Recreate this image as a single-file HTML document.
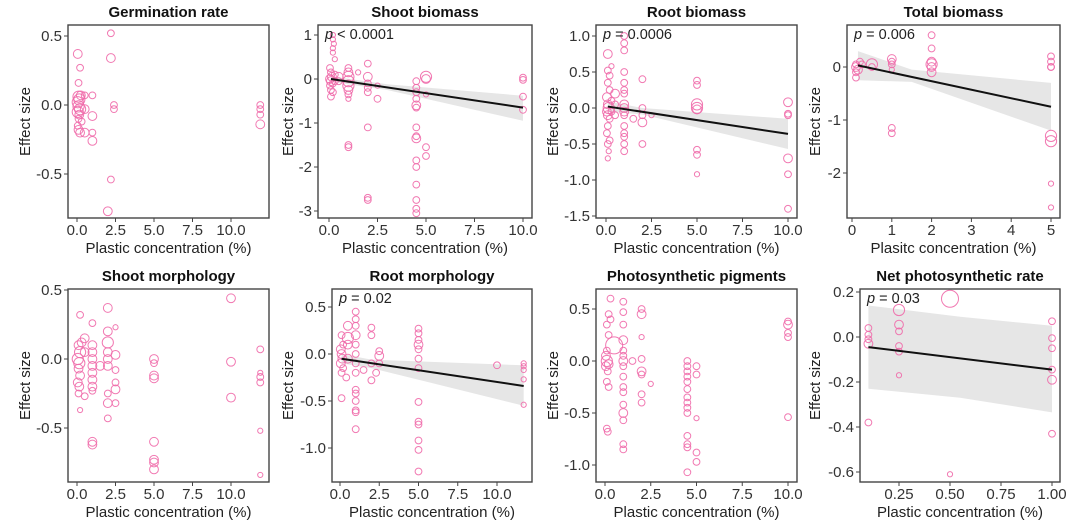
<!DOCTYPE html>
<html><head><meta charset="utf-8">
<style>
html,body{margin:0;padding:0;background:#fff;}
svg{display:block;font-family:"Liberation Sans",Arial,sans-serif;}
</style></head>
<body>
<svg id="chart" width="1080" height="527" viewBox="0 0 1080 527"></svg>
<script>
// ---------- data ----------
const panelTitles = ["Germination rate","Shoot biomass","Root biomass","Total biomass","Shoot morphology","Root morphology","Photosynthetic pigments","Net photosynthetic rate"];
const xAxisTitles = ["Plastic concentration (%)","Plastic concentration (%)","Plastic concentration (%)","Plasitc concentration (%)","Plastic concentration (%)","Plastic concentration (%)","Plastic concentration (%)","Plastic concentration (%)"];
const pLabels = ["", "< 0.0001", "= 0.0006", "= 0.006", "", "= 0.02", "", "= 0.03"];
const xTickLabels = [
 ["0.0","2.5","5.0","7.5","10.0"],["0.0","2.5","5.0","7.5","10.0"],["0.0","2.5","5.0","7.5","10.0"],["0","1","2","3","4","5"],
 ["0.0","2.5","5.0","7.5","10.0"],["0.0","2.5","5.0","7.5","10.0"],["0.0","2.5","5.0","7.5","10.0"],["0.25","0.50","0.75","1.00"]];
const yTickLabels = [
 ["0.5","0.0","-0.5"],["1","0","-1","-2","-3"],["1.0","0.5","0.0","-0.5","-1.0","-1.5"],["0","-1","-2"],
 ["0.5","0.0","-0.5"],["0.5","0.0","-0.5","-1.0"],["0.5","0.0","-0.5","-1.0"],["0.2","0.0","-0.2","-0.4","-0.6"]];
// points: [x, effect size, radius-class 1..5]
const germPts = [[0.05,0.37,3],[0.1,0.16,2],[0.2,0.27,2],[0.1,0.06,4],[0.15,0.04,4],[0.25,0.07,3],[0.05,0.02,4],[0.1,-0.01,4],[0.2,-0.03,4],[0.05,-0.05,4],[0.15,-0.07,3],[0.1,-0.1,2],[0.05,-0.15,2],[0.1,-0.18,3],[0.2,-0.2,3],[0.3,-0.12,2],[0.5,0.07,2],[0.5,-0.03,3],[0.5,-0.2,3],[1,0.07,2],[1,-0.08,3],[1,-0.2,2],[1,-0.26,3],[2.2,0.52,2],[2.2,0.34,3],[2.2,-0.54,2],[2,-0.77,3],[2.4,0,2],[2.4,-0.03,2],[11.9,0,2],[11.9,-0.03,2],[11.9,-0.07,2],[11.9,-0.14,3]];
const shootBioPts = [[0.2,1.0,1],[0.2,0.9,1],[0.25,0.8,1],[0.2,0.7,1],[0.2,0.6,1],[0.3,0.45,1],[0.05,0.25,2],[0.1,0.15,2],[0.15,0.05,3],[0.05,0,3],[0.1,-0.05,3],[0.2,-0.1,2],[0.05,-0.15,2],[0.1,-0.25,2],[0.2,-0.3,2],[0.1,-0.4,2],[0.3,0.1,2],[0.3,-0.05,2],[0.5,0.05,3],[0.5,-0.05,2],[1,0.25,2],[1,0.15,3],[1,0.05,4],[1,-0.05,4],[1,-0.15,4],[1,-0.25,3],[1,-0.35,2],[1,-0.45,1],[1,-1.5,2],[1,-1.55,2],[1.5,0.15,1],[2,0.35,2],[2,0.05,3],[2,-0.1,2],[2,-0.2,2],[2,-0.3,2],[2,-1.1,2],[2,-2.7,2],[2,-2.75,2],[2.5,-0.15,1],[2.5,-0.45,2],[4.5,-0.05,2],[4.5,-0.2,2],[4.5,-0.3,2],[4.5,-0.45,2],[4.5,-0.6,3],[4.5,-0.65,2],[4.5,-1.1,2],[4.5,-1.3,2],[4.5,-1.35,3],[4.5,-1.85,2],[4.5,-2.0,2],[4.5,-2.4,2],[4.5,-2.75,2],[4.5,-2.95,2],[4.5,-3.05,2],[5,0.05,4],[5,0,3],[5,-0.35,1],[5,-1.55,2],[5,-1.75,2],[10,0.03,2],[10,-0.02,2],[10,-0.4,2],[10,-0.7,2]];
const rootBioPts = [[0.1,0.75,3],[0.1,0.52,2],[0.2,0.45,2],[0.3,0.58,1],[0.1,0.35,2],[0.2,0.25,2],[0.05,0.15,3],[0.1,0.05,3],[0.15,0,4],[0.05,-0.05,3],[0.1,-0.1,3],[0.2,-0.15,2],[0.1,-0.25,2],[0.05,-0.35,2],[0.2,-0.45,2],[0.1,-0.5,2],[0.15,-0.6,1],[0.1,-0.7,1],[0.3,0.1,2],[0.3,-0.05,2],[0.5,0.2,3],[0.5,0.05,2],[0.5,-0.1,2],[1,1.0,2],[1,0.9,2],[1,0.8,2],[1,0.5,2],[1,0.35,2],[1,0.25,2],[1,0.2,2],[1,0.05,3],[1,0,3],[1,-0.05,3],[1,-0.1,2],[1,-0.25,2],[1,-0.35,2],[1,-0.4,2],[1,-0.5,2],[1,-0.6,2],[1.5,-0.15,2],[2,0.4,2],[2,0,2],[2,-0.1,2],[2,-0.2,3],[2,-0.5,2],[2.5,-0.1,1],[5,0.38,2],[5,0.32,2],[5,0.05,4],[5,0,4],[5,-0.02,3],[5,-0.58,2],[5,-0.65,2],[5,-0.92,1],[10,0.08,3],[10,-0.08,2],[10,-0.1,2],[10,-0.7,3],[10,-0.92,2],[10,-1.4,2]];
const totalBioPts = [[0.1,0.05,2],[0.1,0,3],[0.15,-0.05,3],[0.1,-0.1,2],[0.1,-0.2,2],[0.2,0.1,2],[0.25,0.05,2],[0.5,0.05,4],[0.5,0,2],[1,0.15,3],[1,0.1,2],[1,0.05,2],[1,-0.05,1],[1,-1.15,2],[1,-1.25,2],[2,0.6,2],[2,0.35,2],[2,0.1,3],[2,0.05,4],[2,0,3],[2,-0.1,3],[5,0.2,2],[5,0.1,2],[5,0,2],[5,0,2],[5,-1.3,4],[5,-1.4,4],[5,-2.2,1],[5,-2.65,1]];
const shootMorphPts = [[0.2,0.32,2],[0.1,0.1,3],[0.2,0.05,4],[0.05,0,4],[0.15,-0.03,4],[0.1,-0.07,3],[0.2,-0.12,3],[0.05,-0.17,3],[0.15,-0.2,3],[0.1,-0.25,2],[0.2,-0.37,1],[0.3,0.12,3],[0.5,0.15,3],[0.5,0.05,3],[0.5,-0.27,2],[1,0.26,2],[1,0.1,3],[1,0.05,3],[1,0,3],[1,-0.05,3],[1,-0.1,3],[1,-0.15,3],[1,-0.2,3],[1,-0.23,2],[1,-0.6,3],[1,-0.62,3],[1.5,-0.05,3],[2,0.37,3],[2,0.2,3],[2,0.12,4],[2,0.05,3],[2,0,3],[2,-0.05,3],[2,-0.25,2],[2,-0.32,3],[2,-0.43,2],[2.5,0.23,1],[2.5,0.03,3],[2.5,-0.08,2],[2.5,-0.17,2],[2.5,-0.22,3],[2.5,-0.32,2],[5,0,3],[5,-0.03,2],[5,-0.12,3],[5,-0.14,3],[5,-0.6,3],[5,-0.73,3],[5,-0.75,3],[5,-0.8,3],[10,0.44,3],[10,-0.02,3],[10,-0.28,3],[11.9,0.07,2],[11.9,-0.1,1],[11.9,-0.13,2],[11.9,-0.17,2],[11.9,-0.52,1],[11.9,-0.84,1]];
const rootMorphPts = [[0.1,0.2,2],[0.2,0.1,2],[0.05,0.05,3],[0.1,0,3],[0.15,-0.05,3],[0.05,-0.1,3],[0.2,-0.15,2],[0.1,-0.2,2],[0.1,-0.47,2],[0.5,0.3,3],[0.5,0.17,4],[0.5,0.1,3],[0.5,-0.05,3],[0.4,-0.25,2],[1,0.45,2],[1,0.37,2],[1,0.3,2],[1,0.2,3],[1,0.1,2],[1,0,2],[1,-0.1,2],[1,-0.2,2],[1,-0.38,2],[1,-0.42,2],[1,-0.5,2],[1,-0.6,2],[1,-0.62,2],[1,-0.8,2],[1.5,-0.17,2],[2,0.28,2],[2,0.2,2],[2,-0.1,2],[2,-0.28,2],[2.5,0.03,2],[2.5,-0.02,3],[2.5,-0.1,2],[2.3,-0.2,2],[5,0.27,2],[5,0.22,2],[5,0.15,2],[5,0.1,3],[5,0.05,2],[5,-0.05,2],[5,-0.15,2],[5,-0.51,2],[5,-0.72,2],[5,-0.75,2],[5,-0.92,2],[5,-1.02,2],[5,-1.25,2],[10,-0.12,2],[11.7,-0.1,1],[11.7,-0.13,1],[11.7,-0.17,1],[11.7,-0.27,1],[11.7,-0.54,1]];
const pigmentPts = [[0.3,0.6,2],[0.2,0.45,2],[0.3,0.4,2],[0.1,0.35,2],[0.2,0.25,2],[0.1,0.1,2],[0.05,0.05,3],[0.1,0,4],[0.2,-0.03,3],[0.05,-0.05,3],[0.15,-0.1,2],[0.1,-0.2,2],[0.2,-0.25,2],[0.1,-0.65,2],[0.15,-0.68,2],[0.5,0.15,5],[1,0.57,2],[1,0.47,2],[1,0.35,2],[1,0.2,3],[1,0.1,2],[1,0.05,2],[1,0,3],[1,-0.05,2],[1,-0.15,2],[1,-0.25,2],[1,-0.3,2],[1,-0.42,2],[1,-0.5,3],[1,-0.57,2],[1,-0.8,2],[1,-0.85,2],[1.5,0,2],[2,0.5,2],[2,0.45,3],[2,0.23,1],[2,0.02,2],[2,-0.1,3],[2,-0.13,2],[2,-0.32,2],[2,-0.4,2],[2.5,-0.22,1],[4.5,0,2],[4.5,-0.05,2],[4.5,-0.1,2],[4.5,-0.15,2],[4.5,-0.2,2],[4.5,-0.27,2],[4.5,-0.35,2],[4.5,-0.4,2],[4.5,-0.45,2],[4.5,-0.5,2],[4.5,-0.72,2],[4.5,-0.8,2],[4.5,-0.83,2],[4.5,-1.07,2],[5,-0.05,2],[5,-0.13,2],[5,-0.55,1],[5,-0.88,2],[5,-0.97,2],[10,0.38,2],[10,0.35,3],[10,0.27,2],[10,0.23,2],[10,-0.54,2]];
const netPhotoPts = [[0.1,0.04,2],[0.1,0.01,2],[0.1,-0.01,2],[0.1,-0.03,3],[0.1,-0.38,2],[0.25,0.12,4],[0.25,0.055,3],[0.25,0.025,2],[0.25,-0.04,2],[0.25,-0.065,2],[0.25,-0.17,1],[0.5,0.17,5],[0.5,-0.61,1],[1,0.07,2],[1,-0.005,2],[1,-0.05,2],[1,-0.145,2],[1,-0.19,3],[1,-0.43,2]];
// regression fits [x0, y0, x1, y1] and confidence band [x, lower, upper]
const fitLines = [null,[0.1,0.0,10,-0.65],[0.1,0.02,10,-0.36],[0.15,0.03,5,-0.75],null,[0.1,-0.05,11.7,-0.34],null,[0.1,-0.045,1,-0.145]];
const fitBands = [null,
 [[0.1,-0.06,0.06],[3,-0.25,-0.12],[10,-0.95,-0.38]],
 [[0.1,-0.05,0.09],[2,-0.09,0.0],[10,-0.57,-0.15]],
 [[0.15,-0.25,0.3],[1.5,-0.28,-0.05],[5,-1.2,-0.3]],
 null,
 [[0.1,-0.1,0.0],[2,-0.15,-0.06],[11.7,-0.55,-0.12]],
 null,
 [[0.1,-0.23,0.14],[0.55,-0.27,0.09],[1,-0.335,0.05]]];
const allPts = [germPts,shootBioPts,rootBioPts,totalBioPts,shootMorphPts,rootMorphPts,pigmentPts,netPhotoPts];
const xTickVals = [[0,2.5,5,7.5,10],[0,2.5,5,7.5,10],[0,2.5,5,7.5,10],[0,1,2,3,4,5],[0,2.5,5,7.5,10],[0,2.5,5,7.5,10],[0,2.5,5,7.5,10],[0.25,0.5,0.75,1]];
const yTickVals = [[0.5,0,-0.5],[1,0,-1,-2,-3],[1,0.5,0,-0.5,-1,-1.5],[0,-1,-2],[0.5,0,-0.5],[0.5,0,-0.5,-1],[0.5,0,-0.5,-1],[0.2,0,-0.2,-0.4,-0.6]];

// ---------- layout (pixel calibration) ----------
const frames = [[68,25,269,218],[318,25,532,218],[596,25,797,218],[847,25,1060,218],[68,289,269,482],[332,289,532,482],[596,289,797,482],[860,289,1060,482]];
const xCal = [[0,77,10,231],[0,329,10,523],[0,606,10,788],[0,852,5,1051],[0,77,10,231],[0,340,10,497],[0,605,10,788],[0.25,899,1,1052]];
const yCal = [[0.5,36,0,105],[1,35,0,79],[1,36,0,108],[0,67,-2,173],[0.5,290,0,359],[0.5,307,0,354],[0.5,309,0,361],[0.2,292,0,337]];
const yTitleOff = [43,30,43,32,43,44,43,45];
const rClass = [0,2.6,3.4,4.4,5.6,8.5];
const PINK = "#f06aaa";

const NS = "http://www.w3.org/2000/svg";
const svg = document.getElementById('chart');
function mk(tag, attrs, parent){const e=document.createElementNS(NS,tag);for(const k in attrs)e.setAttribute(k,attrs[k]);(parent||svg).appendChild(e);return e;}
function lin(c){return v=>c[1]+(v-c[0])*(c[3]-c[1])/(c[2]-c[0]);}

for(let i=0;i<8;i++){
  const f=frames[i], sx=lin(xCal[i]), sy=lin(yCal[i]);
  const g=mk('g',{});
  
  
  const cx=(f[0]+f[2])/2;
  const t=mk('text',{x:cx,y:f[1]-8,'text-anchor':'middle','font-size':'15','font-weight':'bold',fill:'#111'},g);
  t.textContent=panelTitles[i];
  
  
  if(fitBands[i]){
    const b=fitBands[i];
    let pts=b.map(d=>sx(d[0])+','+sy(d[2])).concat(b.slice().reverse().map(d=>sx(d[0])+','+sy(d[1])));
    const poly=mk('polygon',{points:pts.join(' '),fill:'#e6e6e6'},g);
    
    
  }
  allPts[i].forEach(p=>{
    const c=mk('circle',{cx:sx(p[0]),cy:sy(p[1]),r:rClass[p[2]],fill:'none',stroke:PINK,'stroke-width':'1','stroke-opacity':'0.9'},g);
    
    
  });
  if(fitLines[i]){
    const l=fitLines[i];
    const ln=mk('line',{x1:sx(l[0]),y1:sy(l[1]),x2:sx(l[2]),y2:sy(l[3]),stroke:'#111','stroke-width':'2'},g);
    
    
  }
  const fr=mk('rect',{x:f[0],y:f[1],width:f[2]-f[0],height:f[3]-f[1],fill:'none',stroke:'#444','stroke-width':'1.4'},g);
  
  
  xTickVals[i].forEach((v,k)=>{
    const x=sx(v);
    mk('line',{x1:x,y1:f[3],x2:x,y2:f[3]+4,stroke:'#444','stroke-width':'1'},g);
    const tl=mk('text',{x:x,y:f[3]+17,'text-anchor':'middle','font-size':'15',fill:'#333'},g);
    tl.textContent=xTickLabels[i][k];
    
    
  });
  yTickVals[i].forEach((v,k)=>{
    const y=sy(v);
    mk('line',{x1:f[0]-4,y1:y,x2:f[0],y2:y,stroke:'#444','stroke-width':'1'},g);
    const tl=mk('text',{x:f[0]-6,y:y+5,'text-anchor':'end','font-size':'15',fill:'#333'},g);
    tl.textContent=yTickLabels[i][k];
    
    
  });
  const xt=mk('text',{x:cx,y:f[3]+35,'text-anchor':'middle','font-size':'15',fill:'#222'},g);
  xt.textContent=xAxisTitles[i];
  
  
  const yx=f[0]-yTitleOff[i]+5, yy=(f[1]+f[3])/2;
  const yt=mk('text',{x:yx,y:yy,'text-anchor':'middle','font-size':'15',fill:'#222',transform:'rotate(-90 '+yx+' '+yy+')'},g);
  yt.textContent='Effect size';
  
  
  if(pLabels[i]){
    const pt=mk('text',{x:f[0]+7,y:f[1]+14,'font-size':'14.5',fill:'#222'},g);
    const s1=mk('tspan',{'font-style':'italic'},pt); s1.textContent='p';
    const s2=mk('tspan',{},pt); s2.textContent=' '+pLabels[i];
    
    
  }
}
</script>
</body></html>
